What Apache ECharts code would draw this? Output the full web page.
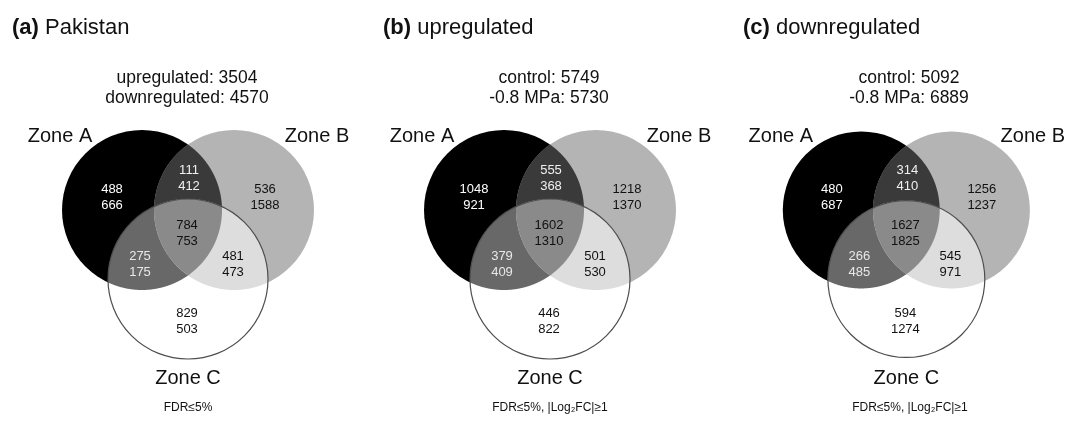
<!DOCTYPE html>
<html>
<head>
<meta charset="utf-8">
<script src="https://cdn.jsdelivr.net/npm/echarts@6/dist/echarts.min.js"></script>
<style>
  html, body { margin: 0; padding: 0; background: #fff; }
  #main { width: 1075px; height: 424px; }
</style>
</head>
<body>
<div id="main"></div>
<script>
// ---- data ----
var panelTags = ['(a)', '(b)', '(c)'];
var panelNames = ['Pakistan', 'upregulated', 'downregulated'];
var totalsFirst = ['upregulated: 3504', 'control: 5749', 'control: 5092'];
var totalsSecond = ['downregulated: 4570', '-0.8 MPa: 5730', '-0.8 MPa: 6889'];
var footNotes = ['FDR≤5%', 'FDR≤5%, |Log₂FC|≥1', 'FDR≤5%, |Log₂FC|≥1'];
var zoneNames = ['Zone A', 'Zone B', 'Zone C'];
// regions: A only, B only, C only, A∩B, A∩C, B∩C, A∩B∩C
var regionKeys = ['A', 'B', 'C', 'AB', 'AC', 'BC', 'ABC'];
var pakistanUp   = [488, 536, 829, 111, 275, 481, 784];
var pakistanDown = [666, 1588, 503, 412, 175, 473, 753];
var upControl    = [1048, 1218, 446, 555, 379, 501, 1602];
var upStress     = [921, 1370, 822, 368, 409, 530, 1310];
var downControl  = [480, 1256, 594, 314, 266, 545, 1627];
var downStress   = [687, 1237, 1274, 410, 485, 971, 1825];

var firstCounts = [pakistanUp, upControl, downControl];
var secondCounts = [pakistanDown, upStress, downStress];

// ---- layout (panel units, 1 unit = 1px) ----
var panelLeft = [0, 362, 722];
var tagLeft = [12, 383, 743];
var circleCenters = [[142, 210], [234, 210], [188, 279]];
var circleR = 80;
var labelPos = {
    A: [112, 197], B: [265, 197], C: [187, 321],
    AB: [189, 178], AC: [140, 264], BC: [233, 264], ABC: [187, 233]
};
var zonePos = [[60, 136], [317, 136], [188, 378]];

var layers = [
    { sets: [0], fill: '#000000' },
    { sets: [1], fill: '#b4b4b4' },
    { sets: [0, 1], fill: '#3a3a3a' },
    { sets: [2], fill: '#ffffff' },
    { sets: [0, 2], fill: '#686868' },
    { sets: [1, 2], fill: '#dddddd' },
    { sets: [0, 1, 2], fill: '#8a8a8a' },
    { sets: [2], fill: 'none', stroke: '#4d4d4d' }
];
var whiteText = { A: '#ffffff', AB: '#f0f0f0', AC: '#e8e8e8' };
var FONT = '"Liberation Sans", Arial, Helvetica, sans-serif';

function renderShape(params, api) {
    var layer = layers[api.value(0)];
    var cs = layer.sets.map(function (i) { return api.coord(circleCenters[i]); });
    var r = api.size([circleR, 0])[0];
    if (cs.length === 1) {
        return {
            type: 'circle',
            shape: { cx: cs[0][0], cy: cs[0][1], r: r },
            style: layer.stroke
                ? { fill: null, stroke: layer.stroke, lineWidth: 1.2 }
                : { fill: layer.fill }
        };
    }
    // intersection of circles is convex: trace boundary by rays from an inside point
    var px = 0, py = 0;
    cs.forEach(function (c) { px += c[0]; py += c[1]; });
    px /= cs.length; py /= cs.length;
    var pts = [];
    var n = 720;
    for (var k = 0; k < n; k++) {
        var a = k / n * Math.PI * 2;
        var dx = Math.cos(a), dy = Math.sin(a), t = Infinity;
        cs.forEach(function (c) {
            var ox = px - c[0], oy = py - c[1];
            var b = dx * ox + dy * oy;
            var q = ox * ox + oy * oy - r * r;
            var tt = -b + Math.sqrt(b * b - q);
            if (tt < t) t = tt;
        });
        pts.push([px + dx * t, py + dy * t]);
    }
    return { type: 'polygon', shape: { points: pts }, style: { fill: layer.fill } };
}

function makeCountRender(p) {
    return function (params, api) {
        var k = api.value(2);
        var key = regionKeys[k];
        var pos = api.coord([api.value(0), api.value(1)]);
        return {
            type: 'text',
            x: pos[0], y: pos[1],
            style: {
                text: firstCounts[p][k] + '\n' + secondCounts[p][k],
                fill: whiteText[key] || '#111111',
                font: '13px ' + FONT,
                lineHeight: 16,
                align: 'center',
                verticalAlign: 'middle'
            }
        };
    };
}

function renderZone(params, api) {
    var pos = api.coord([api.value(0), api.value(1)]);
    return {
        type: 'text',
        x: pos[0], y: pos[1],
        style: {
            text: zoneNames[api.value(2)],
            fill: '#111111',
            font: '20px ' + FONT,
            align: 'center',
            verticalAlign: 'middle'
        }
    };
}

var grids = [], xAxes = [], yAxes = [], series = [], titles = [];
for (var p = 0; p < 3; p++) {
    grids.push({ left: panelLeft[p], top: 0, width: 360, height: 424 });
    xAxes.push({ gridIndex: p, type: 'value', min: 0, max: 360, show: false });
    yAxes.push({ gridIndex: p, type: 'value', min: 0, max: 424, inverse: true, show: false });

    series.push({
        type: 'custom', xAxisIndex: p, yAxisIndex: p, z: 2, silent: true,
        renderItem: renderShape,
        data: layers.map(function (l, i) { return [i, 0]; })
    });
    series.push({
        type: 'custom', xAxisIndex: p, yAxisIndex: p, z: 3, silent: true,
        renderItem: makeCountRender(p),
        data: regionKeys.map(function (key, k) {
            return [labelPos[key][0], labelPos[key][1], k];
        })
    });
    series.push({
        type: 'custom', xAxisIndex: p, yAxisIndex: p, z: 3, silent: true,
        renderItem: renderZone,
        data: zonePos.map(function (zp, i) { return [zp[0], zp[1], i]; })
    });

    titles.push({
        left: tagLeft[p], top: 17, padding: 0,
        text: '{b|' + panelTags[p] + '} ' + panelNames[p],
        textStyle: {
            fontFamily: FONT, fontSize: 22, fontWeight: 'normal', color: '#111',
            rich: { b: { fontFamily: FONT, fontSize: 22, fontWeight: 'bold', color: '#111' } }
        }
    });
    titles.push({
        left: panelLeft[p] + 187, top: 68, padding: 0, textAlign: 'center',
        text: totalsFirst[p] + '\n' + totalsSecond[p],
        textStyle: { fontFamily: FONT, fontSize: 17.5, lineHeight: 20, fontWeight: 'normal', color: '#111' }
    });
    titles.push({
        left: panelLeft[p] + 188, top: 402, padding: 0, textAlign: 'center',
        text: footNotes[p],
        textStyle: { fontFamily: FONT, fontSize: 12, fontWeight: 'normal', color: '#111' }
    });
}

var chart = echarts.init(document.getElementById('main'), null, { renderer: 'canvas' });
chart.setOption({
    animation: false,
    backgroundColor: '#ffffff',
    title: titles,
    grid: grids,
    xAxis: xAxes,
    yAxis: yAxes,
    series: series
});
</script>
</body>
</html>
